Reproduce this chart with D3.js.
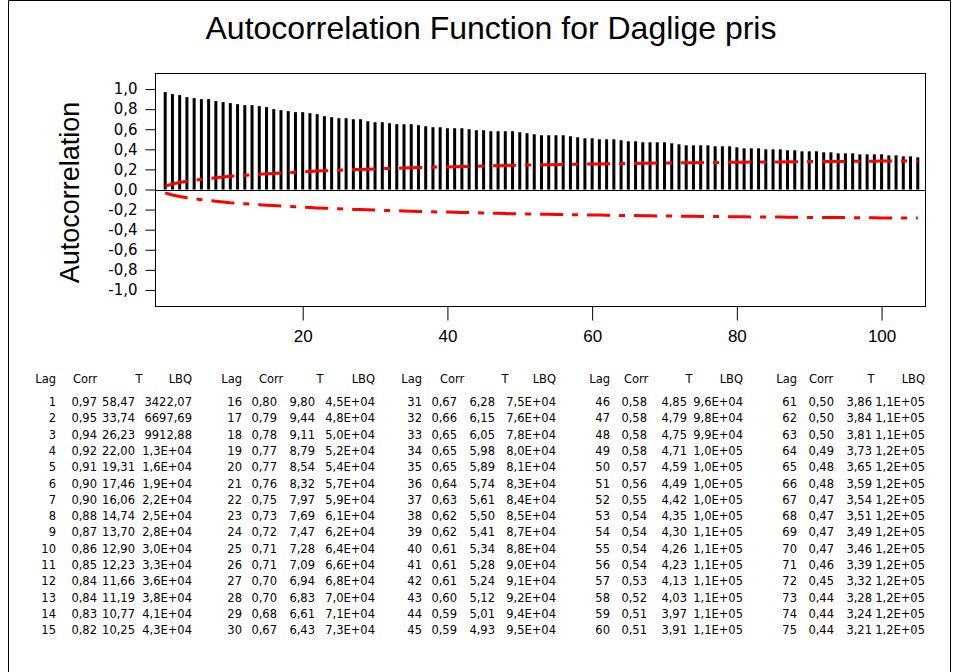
<!DOCTYPE html>
<html>
<head>
<meta charset="utf-8">
<script src="https://cdn.jsdelivr.net/npm/d3@7"></script>
<style>
  html, body { margin: 0; padding: 0; background: #fff; }
  svg text { font-family: "Liberation Sans", Arial, sans-serif; fill: #000; }
</style>
</head>
<body>
<svg id="chart" width="967" height="672"></svg>
<script>
// Autocorrelations for lags 1..105
const acf = [
  0.97, 0.95, 0.94, 0.92, 0.91, 0.90, 0.90, 0.88, 0.87, 0.86, 0.85, 0.84, 0.84, 0.83, 0.82,
  0.80, 0.79, 0.78, 0.77, 0.77, 0.76, 0.75, 0.73, 0.72, 0.71, 0.71, 0.70, 0.70, 0.68, 0.67,
  0.67, 0.66, 0.65, 0.65, 0.65, 0.64, 0.63, 0.62, 0.62, 0.61, 0.61, 0.61, 0.60, 0.59, 0.59,
  0.58, 0.58, 0.58, 0.58, 0.57, 0.56, 0.55, 0.54, 0.54, 0.54, 0.54, 0.53, 0.52, 0.51, 0.51,
  0.50, 0.50, 0.50, 0.49, 0.48, 0.48, 0.47, 0.47, 0.47, 0.47, 0.46, 0.45, 0.44, 0.44, 0.44,
  0.44, 0.43, 0.43, 0.43, 0.42, 0.41, 0.41, 0.41, 0.40, 0.40, 0.40, 0.39, 0.39, 0.38, 0.38,
  0.38, 0.37, 0.37, 0.36, 0.36, 0.36, 0.35, 0.35, 0.35, 0.35, 0.34, 0.34, 0.33, 0.33, 0.32
];

// Significance limits (upper; the lower limit is its negative) for lags 1..105
const limits = [
  0.033, 0.055, 0.070, 0.082, 0.092, 0.101, 0.110, 0.117, 0.124, 0.131, 0.136, 0.141, 0.147, 0.151, 0.156,
  0.160, 0.164, 0.168, 0.172, 0.176, 0.179, 0.183, 0.186, 0.189, 0.192, 0.195, 0.198, 0.200, 0.202, 0.205,
  0.208, 0.210, 0.212, 0.214, 0.216, 0.218, 0.220, 0.222, 0.224, 0.225, 0.227, 0.228, 0.230, 0.231, 0.233,
  0.235, 0.237, 0.239, 0.241, 0.242, 0.243, 0.245, 0.246, 0.247, 0.248, 0.250, 0.251, 0.252, 0.253, 0.254,
  0.255, 0.256, 0.257, 0.258, 0.259, 0.260, 0.261, 0.262, 0.263, 0.264, 0.265, 0.266, 0.266, 0.267, 0.268,
  0.269, 0.270, 0.270, 0.271, 0.272, 0.272, 0.273, 0.274, 0.274, 0.275, 0.275, 0.276, 0.277, 0.277, 0.278,
  0.278, 0.279, 0.279, 0.280, 0.280, 0.281, 0.281, 0.282, 0.282, 0.283, 0.283, 0.284, 0.284, 0.285, 0.285
];

// T statistics for the tabulated lags 1..75
const tStats = [
  58.47, 33.74, 26.23, 22.00, 19.31, 17.46, 16.06, 14.74, 13.70, 12.90, 12.23, 11.66, 11.19, 10.77, 10.25,
  9.80, 9.44, 9.11, 8.79, 8.54, 8.32, 7.97, 7.69, 7.47, 7.28, 7.09, 6.94, 6.83, 6.61, 6.43,
  6.28, 6.15, 6.05, 5.98, 5.89, 5.74, 5.61, 5.50, 5.41, 5.34, 5.28, 5.24, 5.12, 5.01, 4.93,
  4.85, 4.79, 4.75, 4.71, 4.59, 4.49, 4.42, 4.35, 4.30, 4.26, 4.23, 4.13, 4.03, 3.97, 3.91,
  3.86, 3.84, 3.81, 3.73, 3.65, 3.59, 3.54, 3.51, 3.49, 3.46, 3.39, 3.32, 3.28, 3.24, 3.21
];

// Ljung-Box Q statistics for lags 1..75
const lbq = [
  3422.07, 6697.69, 9912.88, 1.3e4, 1.6e4, 1.9e4, 2.2e4, 2.5e4, 2.8e4, 3.0e4, 3.3e4, 3.6e4, 3.8e4, 4.1e4, 4.3e4,
  4.5e4, 4.8e4, 5.0e4, 5.2e4, 5.4e4, 5.7e4, 5.9e4, 6.1e4, 6.2e4, 6.4e4, 6.6e4, 6.8e4, 7.0e4, 7.1e4, 7.3e4,
  7.5e4, 7.6e4, 7.8e4, 8.0e4, 8.1e4, 8.3e4, 8.4e4, 8.5e4, 8.7e4, 8.8e4, 9.0e4, 9.1e4, 9.2e4, 9.4e4, 9.5e4,
  9.6e4, 9.8e4, 9.9e4, 1.0e5, 1.0e5, 1.0e5, 1.0e5, 1.0e5, 1.1e5, 1.1e5, 1.1e5, 1.1e5, 1.1e5, 1.1e5, 1.1e5,
  1.1e5, 1.1e5, 1.1e5, 1.2e5, 1.2e5, 1.2e5, 1.2e5, 1.2e5, 1.2e5, 1.2e5, 1.2e5, 1.2e5, 1.2e5, 1.2e5, 1.2e5
];

const yTicks = [-1.0, -0.8, -0.6, -0.4, -0.2, 0.0, 0.2, 0.4, 0.6, 0.8, 1.0];
const xTicks = [20, 40, 60, 80, 100];
const tableHeaders = ["Lag", "Corr", "T", "LBQ"];

const lags = acf.map((_, i) => i + 1);

// Decimal comma, hyphen minus
const loc = d3.formatLocale({ decimal: ",", thousands: ".", grouping: [3], currency: ["", ""], minus: "-" });
const f1 = loc.format(".1f");
const f2 = loc.format(".2f");
function fmtQ(v) {
  if (v < 10000) return f2(v);
  const e = Math.floor(Math.log10(v));
  const m = v / Math.pow(10, e);
  return f1(m) + "E+" + String(e).padStart(2, "0");
}

const svg = d3.select("#chart");
svg.append("rect").attr("width", 967).attr("height", 672).attr("fill", "#fff");

// Outer window border
svg.append("path")
  .attr("d", "M8.5,672 V0.5 H950.5 V672")
  .attr("fill", "none").attr("stroke", "#000").attr("stroke-width", 1);

// Plot geometry
const plotL = 155, plotR = 925, plotT = 73, plotB = 306;
const x = d3.scaleLinear().domain([-0.41, 106.0]).range([plotL, plotR]);
const y = d3.scaleLinear().domain([-1.16, 1.16]).range([plotB, plotT]);

// Title
svg.append("text")
  .attr("x", 491).attr("y", 39)
  .attr("text-anchor", "middle")
  .style("font-size", "32px")
  .text("Autocorrelation Function for Daglige pris");

// Y axis title
svg.append("text")
  .attr("transform", "translate(78.5,192.5) rotate(-90)")
  .attr("text-anchor", "middle")
  .style("font-size", "27px")
  .text("Autocorrelation");

// Bars
svg.append("g").selectAll("rect")
  .data(lags)
  .join("rect")
  .attr("x", d => x(d) - 1.5)
  .attr("width", 3)
  .attr("y", d => Math.min(y(acf[d - 1]), y(0)))
  .attr("height", d => Math.abs(y(0) - y(acf[d - 1])))
  .attr("fill", "#000");

// Zero line
svg.append("line")
  .attr("x1", plotL).attr("x2", plotR)
  .attr("y1", Math.round(y(0)) + 0.5).attr("y2", Math.round(y(0)) + 0.5)
  .attr("stroke", "#000").attr("stroke-width", 1);

// Significance limits
const limLine = sign => d3.line()
  .x(d => x(d))
  .y(d => y(sign * limits[d - 1]));
[1, -1].forEach(s => {
  svg.append("path")
    .datum(lags)
    .attr("d", limLine(s))
    .attr("fill", "none")
    .attr("stroke", "#ff0000")
    .attr("stroke-width", 3)
    .attr("stroke-dasharray", "23,9,6,9");
});

// Frame
svg.append("rect")
  .attr("x", plotL + 0.5).attr("y", plotT + 0.5)
  .attr("width", plotR - plotL).attr("height", plotB - plotT)
  .attr("fill", "none").attr("stroke", "#000").attr("stroke-width", 1);

// Y axis
const yAxis = svg.append("g")
  .attr("transform", "translate(" + (plotL + 0.5) + ",0)")
  .call(d3.axisLeft(y).tickValues(yTicks).tickSize(10).tickPadding(8).tickFormat(f1));
yAxis.select(".domain").remove();
yAxis.selectAll("text").style("font-size", "15px").style("font-family", "\"DejaVu Sans\", sans-serif");

// X axis
const xAxis = svg.append("g")
  .attr("transform", "translate(0," + (plotB + 0.5) + ")")
  .call(d3.axisBottom(x).tickValues(xTicks).tickSize(14).tickPadding(9).tickFormat(d => d));
xAxis.select(".domain").remove();
xAxis.selectAll("text").style("font-size", "17px").style("font-family", "\"Liberation Sans\", Arial, sans-serif");

// Statistics table: five groups of fifteen lags
const groupCols = [
  { lag: 56,  corr: 97,  t: 135, q: 192, hCorr: 73,  hT: 139 },
  { lag: 242, corr: 277, t: 315, q: 375, hCorr: 259, hT: 320 },
  { lag: 422, corr: 457, t: 495, q: 556, hCorr: 440, hT: 505 },
  { lag: 610, corr: 647, t: 687, q: 743, hCorr: 624, hT: 689 },
  { lag: 797, corr: 834, t: 872, q: 925, hCorr: 809, hT: 871 }
];
const table = svg.append("g")
  .style("font-size", "11.5px");
const headerY = 383, rowY0 = 406, rowStep = 16.3;
function cell(xp, yp, anchor, str) {
  table.append("text").attr("x", xp).attr("y", yp).attr("text-anchor", anchor)
    .style("font-family", "\"DejaVu Sans\", sans-serif").text(str);
}
groupCols.forEach((c, g) => {
  cell(c.lag, headerY, "end", tableHeaders[0]);
  cell(c.hCorr, headerY, "start", tableHeaders[1]);
  cell(c.hT, headerY, "middle", tableHeaders[2]);
  cell(c.q, headerY, "end", tableHeaders[3]);
  for (let r = 0; r < 15; r++) {
    const i = g * 15 + r;
    const yy = rowY0 + r * rowStep;
    cell(c.lag, yy, "end", lags[i]);
    cell(c.corr, yy, "end", f2(acf[i]));
    cell(c.t, yy, "end", f2(tStats[i]));
    cell(c.q, yy, "end", fmtQ(lbq[i]));
  }
});
</script>
</body>
</html>
